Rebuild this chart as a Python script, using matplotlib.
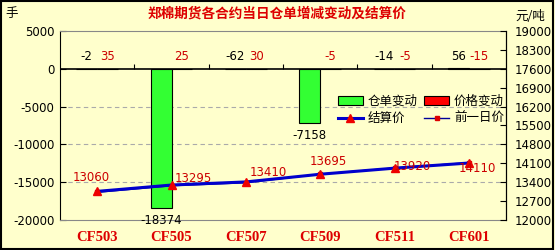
import matplotlib
matplotlib.use("Agg")
import matplotlib.pyplot as plt
import numpy as np
from matplotlib.patches import Rectangle

plt.rcParams['font.family'] = ['DejaVu Sans', 'Noto Sans CJK SC']

categories = ["CF503", "CF505", "CF507", "CF509", "CF511", "CF601"]
warrant_change = [-2, -18374, -62, -7158, -14, 56]
price_change = [35, 25, 30, -5, -5, -15]
settle_price = [13060, 13295, 13410, 13695, 13920, 14110]
prev_price = [13025, 13270, 13380, 13700, 13925, 14125]

left_ticks = [5000, 0, -5000, -10000, -15000, -20000]
right_ticks = [12000, 12700, 13400, 14100, 14800, 15500, 16200, 16900, 17600, 18300, 19000]

BG = "#FFFFCC"
CJK = ['Noto Sans CJK SC', 'DejaVu Sans']

fig = plt.figure(figsize=(5.55, 2.5), dpi=100, facecolor=BG)
fig.patches.append(Rectangle((0.002, 0.004), 0.995, 0.992, transform=fig.transFigure,
                             fill=False, edgecolor='black', linewidth=1.5))

ax = fig.add_axes([60/555, 1-220/250, 446/555, 189/250], facecolor=BG)
x = np.arange(len(categories))
w = 0.28

ax.bar(x - w/2, warrant_change, width=w, color="#33FF33", edgecolor="black",
       linewidth=0.8, label="仓单变动", zorder=2)
ax.bar(x + w/2, price_change, width=w, color="#FF0000", edgecolor="black",
       linewidth=0.8, label="价格变动", zorder=2)

ax.set_xlim(-0.5, len(categories) - 0.5)
ax.set_ylim(-20000, 5000)
ax.set_yticks(left_ticks)
ax.set_yticklabels([str(t) for t in left_ticks], fontsize=8.5)
ax.tick_params(axis='y', direction='in', length=4, width=0.8, pad=4)
ax.set_xticks(x)
ax.set_xticklabels(categories, fontsize=10.5, fontweight='bold', color="#DD0000",
                   family='Liberation Serif')
ax.tick_params(axis='x', length=0, pad=8)

for t in [-5000, -10000, -15000]:
    ax.axhline(t, color="#AAAAAA", linestyle=(0, (4, 3)), linewidth=0.8, zorder=1)
ax.axhline(0, color="black", linewidth=1.2, zorder=3)
ax.vlines(np.arange(0.5, len(categories) - 0.5), 0, 700, color="black", linewidth=0.8, zorder=3)

ax.spines['top'].set_color("#888888")
ax.spines['bottom'].set_color("#888888")
ax.spines['left'].set_color("black")
ax.spines['right'].set_color("black")

# bar labels
for i, v in enumerate(warrant_change):
    if v > -1000:
        ax.annotate(str(v), (i - w/2, 0), xytext=(0, 9), textcoords='offset points',
                    ha='center', va='center', fontsize=8.5, color='black')
    else:
        ax.annotate(str(v), (i - w/2, v), xytext=(0, -9), textcoords='offset points',
                    ha='center', va='center', fontsize=8.5, color='black')
for i, v in enumerate(price_change):
    ax.annotate(str(v), (i + w/2, 0), xytext=(0, 9), textcoords='offset points',
                ha='center', va='center', fontsize=8.5, color='#CC0000')

ax2 = ax.twinx()
ax2.set_ylim(12000, 19000)
ax2.set_yticks(right_ticks)
ax2.set_yticklabels([str(t) for t in right_ticks], fontsize=8.5)
ax2.tick_params(axis='y', direction='in', length=4, width=0.8, pad=6)
for s in ['top', 'bottom', 'left']:
    ax2.spines[s].set_visible(False)

ax2.plot(x, prev_price, color="#000099", linewidth=1, marker='s', markersize=2.5,
         markerfacecolor='#DD0000', markeredgecolor='#DD0000', label="前一日价", zorder=3)
ax2.plot(x, settle_price, color="#0000CC", linewidth=2.2, marker='^', markersize=6,
         markerfacecolor='#EE0000', markeredgecolor='#EE0000', label="结算价", zorder=4)

price_offsets = [(-4, 10), (16, 5), (16, 7), (6, 9), (13, 1.5), (6, -4)]
for i, v in enumerate(settle_price):
    dx, dy = price_offsets[i]
    ax2.annotate(str(v), (i, v), xytext=(dx, dy), textcoords='offset points',
                 ha='center', va='center', fontsize=8.5, color='#CC0000', zorder=5)

# legend
h1, l1 = ax.get_legend_handles_labels()
h2, l2 = ax2.get_legend_handles_labels()
handles = [h1[0], h2[1], h1[1], h2[0]]
labels = [l1[0], l2[1], l1[1], l2[0]]
leg = fig.legend(handles, labels, ncol=2, loc='upper left', bbox_to_anchor=(329/555, 1-86/250),
                 frameon=False, prop={'family': CJK, 'size': 9}, handlelength=2.0,
                 handletextpad=0.4, columnspacing=0.5, labelspacing=0.35, borderpad=0.2)

fig.text(277/555, 1-14/250, "郑棉期货各合约当日仓单增减变动及结算价", ha='center', va='center',
         fontsize=9.8, fontweight='bold', color="#DD0000", family=CJK)
fig.text(12/555, 1-14/250, "手", ha='center', va='center', fontsize=9, family=CJK)
fig.text(530/555, 1-16/250, "元/吨", ha='center', va='center', fontsize=9, family=CJK)

fig.savefig("out.png", dpi=100, facecolor=BG)
